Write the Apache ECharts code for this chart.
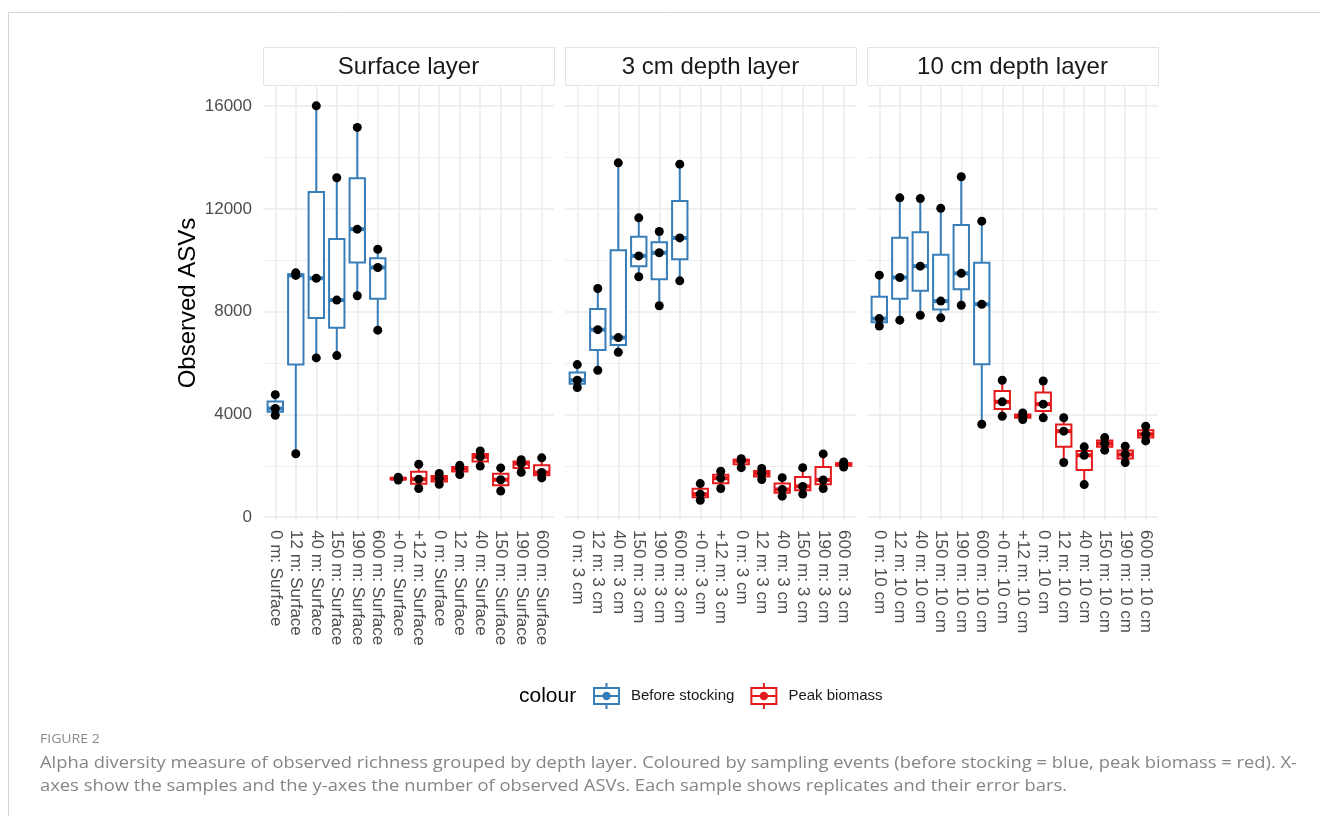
<!DOCTYPE html>
<html>
<head>
<meta charset="utf-8">
<script src="https://cdn.jsdelivr.net/npm/echarts@6/dist/echarts.min.js"></script>
<style>
  html, body { margin: 0; padding: 0; background: #ffffff; }
  #chart { width: 1320px; height: 816px; }
</style>
</head>
<body>
<div id="chart"></div>
<script>
// Facet titles
const layerTitles = ['Surface layer', '3 cm depth layer', '10 cm depth layer'];

// Sample labels per depth layer (x axis)
const surfaceSamples = ['0 m: Surface', '12 m: Surface', '40 m: Surface', '150 m: Surface', '190 m: Surface', '600 m: Surface',
  '+0 m: Surface', '+12 m: Surface', '0 m: Surface', '12 m: Surface', '40 m: Surface', '150 m: Surface', '190 m: Surface', '600 m: Surface'];
const cm3Samples = ['0 m: 3 cm', '12 m: 3 cm', '40 m: 3 cm', '150 m: 3 cm', '190 m: 3 cm', '600 m: 3 cm',
  '+0 m: 3 cm', '+12 m: 3 cm', '0 m: 3 cm', '12 m: 3 cm', '40 m: 3 cm', '150 m: 3 cm', '190 m: 3 cm', '600 m: 3 cm'];
const cm10Samples = ['0 m: 10 cm', '12 m: 10 cm', '40 m: 10 cm', '150 m: 10 cm', '190 m: 10 cm', '600 m: 10 cm',
  '+0 m: 10 cm', '+12 m: 10 cm', '0 m: 10 cm', '12 m: 10 cm', '40 m: 10 cm', '150 m: 10 cm', '190 m: 10 cm', '600 m: 10 cm'];

// Observed ASVs of the replicates, one list per sample
// Before stocking: samples 1-6 of each layer; peak biomass: samples 7-14
const surfaceBefore = [[3970, 4230, 4770], [2470, 9410, 9510], [6200, 9300, 16010], [6290, 8450, 13210], [8620, 11210, 15170], [7280, 9720, 10430]];
const surfacePeak = [[1450, 1500, 1560], [1120, 1480, 2060], [1280, 1500, 1700], [1660, 1890, 2020], [1990, 2350, 2580], [1020, 1460, 1920], [1750, 2090, 2240], [1530, 1740, 2310]];
const cm3Before = [[5050, 5330, 5940], [5720, 7300, 8900], [6420, 6990, 13790], [9360, 10170, 11650], [8230, 10290, 11120], [9200, 10870, 13740]];
const cm3Peak = [[660, 900, 1310], [1120, 1520, 1790], [1930, 2200, 2280], [1470, 1700, 1895], [820, 1080, 1540], [900, 1200, 1930], [1120, 1450, 2465], [1950, 2060, 2150]];
const cm10Before = [[7440, 7730, 9420], [7670, 9330, 12430], [7860, 9770, 12400], [7760, 8410, 12020], [8250, 9490, 13250], [3620, 8290, 11520]];
const cm10Peak = [[3930, 4490, 5330], [3800, 3940, 4060], [3870, 4400, 5300], [2130, 3350, 3870], [1270, 2410, 2740], [2610, 2870, 3100], [2130, 2440, 2760], [2970, 3230, 3540]];

// Y axis ticks
const majorTicks = [0, 4000, 8000, 12000, 16000];
const minorTicks = [2000, 6000, 10000, 14000];

const eventNames = ['Before stocking', 'Peak biomass'];
const captionTitle = 'FIGURE 2';
const captionLines = [
  'Alpha diversity measure of observed richness grouped by depth layer. Coloured by sampling events (before stocking = blue, peak biomass = red). X-',
  'axes show the samples and the y-axes the number of observed ASVs. Each sample shows replicates and their error bars.'
];

// ---------------------------------------------------------------------------
const FONT = "'Liberation Sans', Arial, Helvetica, sans-serif";
const CAPTION_FONT = "'Open Sans', 'Noto Sans', sans-serif";
const BLUE = '#377EB8';
const RED = '#E41A1C';
const GRID_COLOR = '#ebebeb';
const Y_MIN = -108, Y_MAX = 16781;
const X_MIN = -0.6, X_MAX = 13.6;

const panels = [
  { title: layerTitles[0], samples: surfaceSamples, before: surfaceBefore, peak: surfacePeak },
  { title: layerTitles[1], samples: cm3Samples, before: cm3Before, peak: cm3Peak },
  { title: layerTitles[2], samples: cm10Samples, before: cm10Before, peak: cm10Peak }
];
const panelLeft = [263, 565, 867];
const panelWidth = 291;
const panelTop = 86;
const panelHeight = 434;

// R type-7 quantile
function quantile(sorted, p) {
  const h = (sorted.length - 1) * p;
  const lo = Math.floor(h);
  const hi = Math.ceil(h);
  return sorted[lo] + (h - lo) * (sorted[hi] - sorted[lo]);
}
function boxRow(x, values) {
  const s = values.slice().sort((a, b) => a - b);
  return [x, s[0], quantile(s, 0.25), quantile(s, 0.5), quantile(s, 0.75), s[s.length - 1]];
}

function renderBox(params, api) {
  const x = api.value(0);
  const pMin = api.coord([x, api.value(1)]);
  const pQ1 = api.coord([x, api.value(2)]);
  const pMed = api.coord([x, api.value(3)]);
  const pQ3 = api.coord([x, api.value(4)]);
  const pMax = api.coord([x, api.value(5)]);
  const half = api.size([0.75, 0])[0] / 2;
  const color = api.visual('color');
  const cx = pMed[0];
  return {
    type: 'group',
    children: [
      { type: 'line', shape: { x1: cx, y1: pMax[1], x2: cx, y2: pQ3[1] }, style: { stroke: color, lineWidth: 2 } },
      { type: 'line', shape: { x1: cx, y1: pQ1[1], x2: cx, y2: pMin[1] }, style: { stroke: color, lineWidth: 2 } },
      { type: 'rect', shape: { x: cx - half, y: pQ3[1], width: 2 * half, height: pQ1[1] - pQ3[1] },
        style: { fill: '#ffffff', stroke: color, lineWidth: 2 } },
      { type: 'line', shape: { x1: cx - half, y1: pMed[1], x2: cx + half, y2: pMed[1] }, style: { stroke: color, lineWidth: 4 } }
    ]
  };
}

const grids = [], xAxes = [], yAxes = [], series = [], graphics = [];

panels.forEach((p, g) => {
  grids.push({ left: panelLeft[g], top: panelTop, width: panelWidth, height: panelHeight });

  xAxes.push({
    type: 'value', gridIndex: g, min: X_MIN, max: X_MAX,
    axisLine: { show: false },
    axisTick: { show: false, customValues: p.samples.map((_, i) => i) },
    splitLine: { show: true, lineStyle: { color: GRID_COLOR, width: 1.5 } },
    axisLabel: {
      customValues: p.samples.map((_, i) => i),
      formatter: v => p.samples[Math.round(v)],
      rotate: -90, margin: 10, fontSize: 17, color: '#4d4d4d', fontFamily: FONT
    }
  });

  // major grid + labels
  yAxes.push({
    type: 'value', gridIndex: g, min: Y_MIN, max: Y_MAX,
    axisLine: { show: false },
    axisTick: { show: false, customValues: majorTicks },
    splitLine: { show: true, lineStyle: { color: GRID_COLOR, width: 1.5 } },
    axisLabel: {
      show: g === 0, customValues: majorTicks, margin: 11,
      formatter: v => String(Math.round(v)),
      fontSize: 17, color: '#4d4d4d', fontFamily: FONT
    },
    name: g === 0 ? 'Observed ASVs' : '',
    nameLocation: 'middle', nameGap: 60,
    nameTextStyle: { fontSize: 24, color: '#000000', fontFamily: FONT }
  });
  // minor grid
  yAxes.push({
    type: 'value', gridIndex: g, min: Y_MIN, max: Y_MAX, position: 'left',
    axisLine: { show: false },
    axisTick: { show: false, customValues: minorTicks },
    axisLabel: { show: false },
    splitLine: { show: true, lineStyle: { color: GRID_COLOR, width: 0.8 } }
  });

  const beforeRows = p.before.map((v, i) => boxRow(i, v));
  const peakRows = p.peak.map((v, i) => boxRow(i + p.before.length, v));
  const points = [];
  p.before.forEach((v, i) => v.forEach(y => points.push([i, y])));
  p.peak.forEach((v, i) => v.forEach(y => points.push([i + p.before.length, y])));

  series.push({
    type: 'custom', name: eventNames[0], xAxisIndex: g, yAxisIndex: 2 * g,
    renderItem: renderBox, itemStyle: { color: BLUE },
    encode: { x: 0, y: [1, 2, 3, 4, 5] }, data: beforeRows, z: 3
  });
  series.push({
    type: 'custom', name: eventNames[1], xAxisIndex: g, yAxisIndex: 2 * g,
    renderItem: renderBox, itemStyle: { color: RED },
    encode: { x: 0, y: [1, 2, 3, 4, 5] }, data: peakRows, z: 3
  });
  series.push({
    type: 'scatter', name: 'replicates', xAxisIndex: g, yAxisIndex: 2 * g,
    symbol: 'circle', symbolSize: 9, itemStyle: { color: '#000000', opacity: 1 },
    data: points, z: 5, silent: true
  });

  // facet strip
  graphics.push({
    type: 'rect', left: panelLeft[g], top: 47,
    shape: { width: panelWidth, height: 38 },
    style: { fill: '#ffffff', stroke: '#e3e3e3', lineWidth: 1 }
  });
  graphics.push({
    type: 'text', x: panelLeft[g] + panelWidth / 2, y: 67,
    style: { text: p.title, fontSize: 24, fill: '#1a1a1a', fontFamily: FONT, align: 'center', verticalAlign: 'middle' }
  });
});

// outer frame
graphics.push({
  type: 'polyline', shape: { points: [[1320, 12.5], [8.5, 12.5], [8.5, 816]] },
  style: { stroke: '#d6d6d6', lineWidth: 1, fill: null }
});

// legend title
graphics.push({
  type: 'text', x: 519, y: 696,
  style: { text: 'colour', fontSize: 21, fill: '#000000', fontFamily: FONT, verticalAlign: 'middle' }
});

// caption, fitted to the text block width
const measure = document.createElement('canvas').getContext('2d');
measure.font = "17px 'Open Sans'";
const captionScale = 1257 / measure.measureText(captionLines[0]).width;
graphics.push({
  type: 'text', x: 40, y: 739, scaleX: captionScale,
  style: { text: captionTitle, fontSize: 13, fill: '#8a8a8a', fontFamily: CAPTION_FONT, verticalAlign: 'middle' }
});
captionLines.forEach((t, i) => {
  graphics.push({
    type: 'text', x: 40, y: 763 + i * 23, scaleX: captionScale,
    style: { text: t, fontSize: 17, fill: '#858585', fontFamily: CAPTION_FONT, verticalAlign: 'middle' }
  });
});

// legend key: box with whiskers, median and point
const keyIcon = 'path://M0,4H27V22H0Z M2,6V20H25V6Z M2,12H25V14H2Z M12.5,0H14.5V4H12.5Z M12.5,22H14.5V26H12.5Z ' +
  'M13.5,8.8A4.2,4.2,0,1,1,13.5,17.2A4.2,4.2,0,1,1,13.5,8.8Z';

const chart = echarts.init(document.getElementById('chart'), null, { renderer: 'canvas' });
chart.setOption({
  backgroundColor: '#ffffff',
  animation: false,
  grid: grids,
  xAxis: xAxes,
  yAxis: yAxes,
  series: series,
  legend: {
    data: [
      { name: eventNames[0], icon: keyIcon, itemStyle: { color: BLUE, borderWidth: 0 } },
      { name: eventNames[1], icon: keyIcon, itemStyle: { color: RED, borderWidth: 0 } }
    ],
    left: 588, top: 678, itemWidth: 27, itemHeight: 26, itemGap: 16,
    selectedMode: false,
    textStyle: { fontSize: 15, color: '#1a1a1a', fontFamily: FONT, padding: [0, 0, 0, 6] }
  },
  graphic: graphics
});
</script>
</body>
</html>
